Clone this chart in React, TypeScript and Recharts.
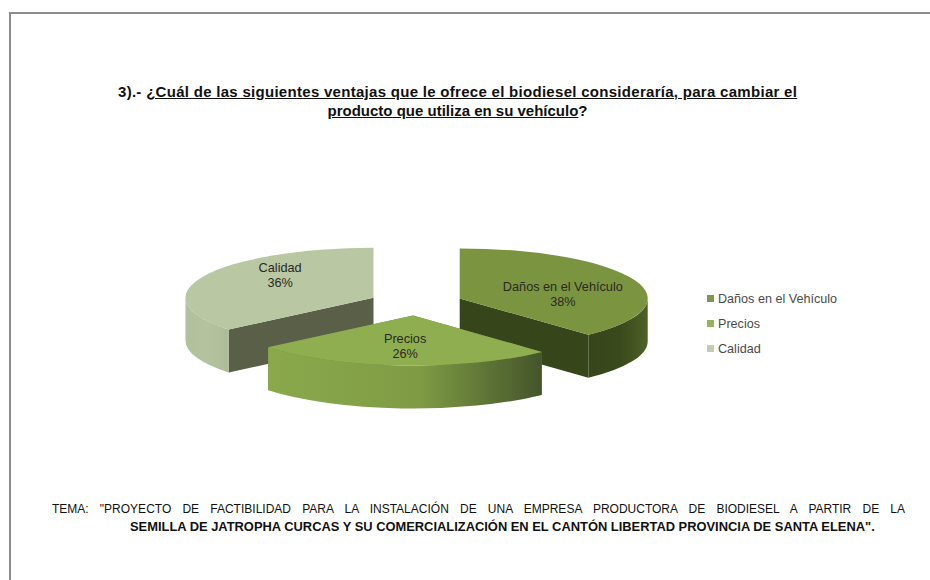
import { Legend, Pie, PieChart } from "recharts";

const categories = ["Daños en el Vehículo", "Precios", "Calidad"];
const percents = [38, 26, 36];

const titleLines = [
  "¿Cuál de las siguientes ventajas que le ofrece el biodiesel consideraría, para cambiar el",
  "producto que utiliza en su vehículo",
];
const themeLines = [
  'TEMA: "PROYECTO DE FACTIBILIDAD PARA LA INSTALACIÓN DE UNA EMPRESA PRODUCTORA DE BIODIESEL A PARTIR DE LA',
  'SEMILLA DE JATROPHA CURCAS Y SU COMERCIALIZACIÓN EN EL CANTÓN LIBERTAD PROVINCIA DE SANTA ELENA".',
];

const FONT = '"Liberation Sans", Arial, sans-serif';
const SQUASH = 0.266; // vertical flattening of the disc
const DEPTH = 43; // wall height
const EXPLODE = 47; // how far each slice is pulled out

const sliceStyles: Record<string, any> = {
  "Daños en el Vehículo": {
    top: "#7a9440",
    inner: "#37461a",
    wall: ["#37461a", "#3b4a1c", "#4e6127"],
    legend: "#7f9450",
    nudge: [0, 6],
  },
  Precios: {
    top: "#8fae4f",
    inner: "#6e863c",
    wall: ["#8aa94b", "#7f9c45", "#44552a"],
    legend: "#97b25c",
    nudge: [-1, 1],
  },
  Calidad: {
    top: "#b9c7a2",
    inner: "#5a6048",
    wall: ["#b3c09c", "#b5c29e", "#aebb97"],
    legend: "#c3ceb0",
    nudge: [7, -10],
  },
};

// drawn back to front: Calidad first so that Precios can overlap its wall
const drawOrder = [2, 0, 1];
const pieData = drawOrder.map((i) => ({ name: categories[i], value: percents[i] }));
const START_ANGLE = 90 + (percents[2] / 100) * 360;

function SliceShape(props: any) {
  const { cx, cy, outerRadius: r, startAngle, endAngle, midAngle, name, index } = props;
  const style = sliceStyles[name ?? props.payload?.name];
  const mid = (midAngle * Math.PI) / 180;
  const ox = cx + EXPLODE * Math.cos(mid);
  const oy = cy - EXPLODE * Math.sin(mid) * SQUASH;
  const ry = r * SQUASH;
  const hi = Math.max(startAngle, endAngle);
  const lo = Math.min(startAngle, endAngle);
  const pt = (deg: number, dy = 0) => {
    const a = (deg * Math.PI) / 180;
    return `${ox + r * Math.cos(a)} ${oy - ry * Math.sin(a) + dy}`;
  };
  const corner = `${ox} ${oy}`;
  const cornerLow = `${ox} ${oy + DEPTH}`;

  // outer wall only shows on the front half of the disc
  const walls: string[] = [];
  for (let k = -1; k <= 1; k++) {
    const from = Math.min(hi, 360 * k);
    const to = Math.max(lo, 360 * k - 180);
    if (from > to) {
      walls.push(
        `M${pt(from)} A${r} ${ry} 0 0 1 ${pt(to)} L${pt(to, DEPTH)} A${r} ${ry} 0 0 0 ${pt(from, DEPTH)} Z`,
      );
    }
  }
  const gradId = `wall-${index}`;
  const large = hi - lo > 180 ? 1 : 0;

  return (
    <g>
      <defs>
        <linearGradient id={gradId} x1="0" y1="0" x2="1" y2="0">
          <stop offset="0%" stopColor={style.wall[0]} />
          <stop offset="55%" stopColor={style.wall[1]} />
          <stop offset="100%" stopColor={style.wall[2]} />
        </linearGradient>
      </defs>
      <path
        d={`M${corner} L${pt(hi)} L${pt(hi, DEPTH)} L${cornerLow} Z`}
        fill={style.inner}
      />
      <path
        d={`M${corner} L${pt(lo)} L${pt(lo, DEPTH)} L${cornerLow} Z`}
        fill={style.inner}
      />
      {walls.map((d) => (
        <path key={d} d={d} fill={`url(#${gradId})`} />
      ))}
      <path
        d={`M${corner} L${pt(hi)} A${r} ${ry} 0 ${large} 1 ${pt(lo)} Z`}
        fill={style.top}
      />
    </g>
  );
}

function sliceLabel(props: any) {
  const { cx, cy, outerRadius: r, midAngle, name, value } = props;
  const style = sliceStyles[name];
  const a = (midAngle * Math.PI) / 180;
  const x = cx + (EXPLODE + r * 0.59) * Math.cos(a) + style.nudge[0];
  const y = cy - (EXPLODE + r * 0.59) * Math.sin(a) * SQUASH + style.nudge[1];
  return (
    <text x={x} y={y} textAnchor="middle" fontFamily={FONT} fontSize={12.7} fill="#2a2a22">
      <tspan x={x} dy={-3}>
        {name}
      </tspan>
      <tspan x={x} dy={15}>
        {value}%
      </tspan>
    </text>
  );
}

function LegendList() {
  return (
    <div style={{ fontFamily: FONT, fontSize: 12.6, color: "#4a4a4a" }}>
      {categories.map((name) => (
        <div key={name} style={{ display: "flex", alignItems: "center", height: 25 }}>
          <span
            style={{
              width: 7,
              height: 7,
              marginRight: 4,
              background: sliceStyles[name].legend,
            }}
          />
          {name}
        </div>
      ))}
    </div>
  );
}

export default function App() {
  return (
    <div
      style={{
        position: "absolute",
        left: 0,
        top: 0,
        width: 930,
        height: 580,
        background: "#fff",
        overflow: "hidden",
        fontFamily: FONT,
      }}
    >
      <div style={{ position: "absolute", left: 9, top: 12, width: 921, height: 2, background: "#8c8c8c" }} />
      <div style={{ position: "absolute", left: 9, top: 12, width: 2, height: 568, background: "#8c8c8c" }} />

      <div
        style={{
          position: "absolute",
          left: 118,
          top: 82,
          width: 679,
          fontSize: 15,
          lineHeight: "19px",
          fontWeight: 700,
          color: "#111",
          textAlign: "center",
          whiteSpace: "nowrap",
        }}
      >
        <div style={{ letterSpacing: 0.29 }}>
          3).- <u>{titleLines[0]}</u>
        </div>
        <div>
          <u>{titleLines[1]}</u>?
        </div>
      </div>

      <PieChart width={930} height={580} margin={{ top: 0, right: 0, bottom: 0, left: 0 }}>
        <Pie
          data={pieData}
          dataKey="value"
          nameKey="name"
          cx={416}
          cy={303}
          innerRadius={0}
          outerRadius={188}
          startAngle={START_ANGLE}
          endAngle={START_ANGLE - 360}
          stroke="none"
          shape={SliceShape}
          label={sliceLabel}
          labelLine={false}
          isAnimationActive={false}
        />
        <Legend
          content={<LegendList />}
          layout="vertical"
          wrapperStyle={{ position: "absolute", left: 707, top: 286, width: 150 }}
        />
      </PieChart>

      <div
        style={{
          position: "absolute",
          left: 52,
          top: 502,
          width: 853,
          fontSize: 12,
          lineHeight: "15px",
          color: "#111",
          textAlign: "justify",
          textAlignLast: "justify",
        }}
      >
        {themeLines[0]}
      </div>
      <div
        style={{
          position: "absolute",
          left: 130,
          top: 519,
          width: 747,
          fontSize: 12.9,
          lineHeight: "15px",
          color: "#111",
          whiteSpace: "nowrap",
          fontWeight: 700,
        }}
      >
        {themeLines[1]}
      </div>
    </div>
  );
}
